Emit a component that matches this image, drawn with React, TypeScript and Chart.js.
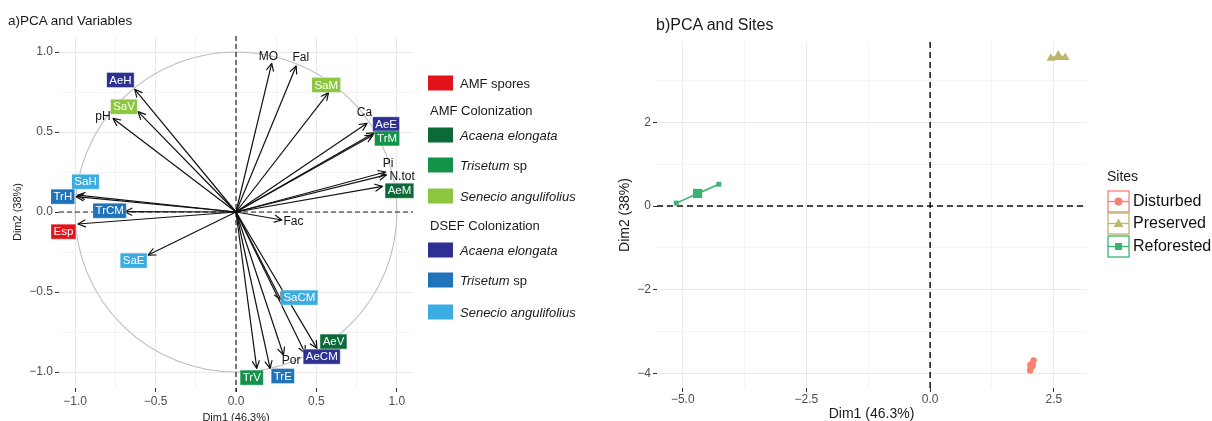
import React, { useEffect, useRef } from "react";
import { Chart, registerables } from "chart.js";
Chart.register(...registerables);

const FONT = '"Liberation Sans", Arial, Helvetica, sans-serif';

// ---------------- Panel a) PCA and Variables ----------------
const varNames = ["MO", "Fal", "SaM", "Ca", "AeE", "TrM", "Pi", "N.tot", "AeM", "AeH", "SaV", "pH", "SaH", "TrH", "TrCM", "Esp", "SaE", "Fac", "SaCM", "AeV", "AeCM", "Por", "TrE", "TrV"];
const varDim1 = [0.222, 0.374, 0.575, 0.814, 0.86, 0.85, 0.93, 0.935, 0.91, -0.629, -0.609, -0.764, -0.985, -0.993, -0.692, -0.982, -0.546, 0.285, 0.28, 0.503, 0.43, 0.295, 0.212, 0.129];
const varDim2 = [0.929, 0.9125, 0.746, 0.554, 0.495, 0.48, 0.25, 0.232, 0.16, 0.767, 0.627, 0.585, 0.105, 0.096, 0.002, -0.075, -0.269, -0.05, -0.55, -0.852, -0.883, -0.894, -0.977, -0.977];
const varGroup = ["none", "none", "amfSa", "none", "dsefAe", "amfTr", "none", "none", "amfAe", "dsefAe", "amfSa", "none", "dsefSa", "dsefTr", "dsefTr", "spores", "dsefSa", "none", "dsefSa", "amfAe", "dsefAe", "none", "dsefTr", "amfTr"];
const labelDim1 = [0.201, 0.403, 0.561, 0.798, 0.933, 0.939, 0.945, 1.032, 1.016, -0.718, -0.696, -0.827, -0.935, -1.076, -0.785, -1.072, -0.636, 0.357, 0.394, 0.606, 0.533, 0.343, 0.291, 0.098];
const labelDim2 = [0.971, 0.964, 0.794, 0.621, 0.548, 0.46, 0.3, 0.221, 0.133, 0.825, 0.658, 0.596, 0.189, 0.096, 0.008, -0.123, -0.304, -0.06, -0.535, -0.81, -0.904, -0.929, -1.025, -1.035];

const groupColors: Record<string, string> = {
  spores: "#E3131C",
  amfAe: "#0B6A38",
  amfTr: "#13934A",
  amfSa: "#8DC63F",
  dsefAe: "#2E3192",
  dsefTr: "#1F73B9",
  dsefSa: "#3BACE1",
};

const legendKeysA = ["spores", null, "amfAe", "amfTr", "amfSa", null, "dsefAe", "dsefTr", "dsefSa"];
const legendTextsA: [string, boolean][][] = [
  [["AMF spores", false]],
  [["AMF Colonization", false]],
  [["Acaena elongata", true]],
  [["Trisetum", true], [" sp", false]],
  [["Senecio angulifolius", true]],
  [["DSEF Colonization", false]],
  [["Acaena elongata", true]],
  [["Trisetum", true], [" sp", false]],
  [["Senecio angulifolius", true]],
];

const ticksA = [-1, -0.75, -0.5, -0.25, 0, 0.25, 0.5, 0.75, 1];
const majorTicksA = [-1, -0.5, 0, 0.5, 1];
const tickLabelsA = ["\u22121.0", "\u22120.5", "0.0", "0.5", "1.0"];
const CIRCLE_R = 1;

// ---------------- Panel b) PCA and Sites ----------------
const siteNames = ["Disturbed", "Preserved", "Reforested"];
const siteColors = ["#FA8072", "#BDB76B", "#3CB371"];
const siteShapes = ["circle", "triangle", "rect"];
const disturbedDim1 = [2.09, 2.05, 2.02];
const disturbedDim2 = [-3.69, -3.81, -3.93];
const preservedDim1 = [2.44, 2.59, 2.73];
const preservedDim2 = [3.53, 3.6, 3.55];
const reforestedDim1 = [-5.13, -4.7, -4.27];
const reforestedDim2 = [0.07, 0.3, 0.52];
const meanDim1 = [2.05, 2.59, -4.7];
const meanDim2 = [-3.81, 3.57, 0.3];

const xTicksB = [-5, -3.75, -2.5, -1.25, 0, 1.25, 2.5];
const xMajorB = [-5, -2.5, 0, 2.5];
const xLabelsB = ["\u22125.0", "\u22122.5", "0.0", "2.5"];
const yTicksB = [-4, -3, -2, -1, 0, 1, 2, 3];
const yMajorB = [-4, -2, 0, 2];
const yLabelsB = ["\u22124", "\u22122", "0", "2"];

function gridScale(
  axis: "x" | "y",
  min: number,
  max: number,
  ticks: number[],
  major: number[],
  labels: string[],
  fixed: number,
  title: string,
  titleSize: number,
  titlePad: any,
  tickPad: number
) {
  const idx = (v: number) => major.findIndex((m) => Math.abs(m - v) < 1e-9);
  return {
    type: "linear",
    min,
    max,
    afterBuildTicks: (s: any) => {
      s.ticks = ticks.map((v) => ({ value: v }));
    },
    afterFit: (s: any) => {
      if (axis === "x") s.height = fixed;
      else s.width = fixed;
    },
    border: { display: false },
    grid: {
      color: (c: any) => (c.tick && idx(c.tick.value) >= 0 ? "#EBEBEB" : "#F4F4F4"),
      tickColor: (c: any) => (c.tick && idx(c.tick.value) >= 0 ? "#333333" : "rgba(0,0,0,0)"),
      tickLength: 4,
      lineWidth: 1,
    },
    ticks: {
      autoSkip: false,
      maxRotation: 0,
      minRotation: 0,
      padding: tickPad,
      color: "#4D4D4D",
      font: { family: FONT, size: 12 },
      callback: (v: any) => {
        const i = idx(Number(v));
        return i >= 0 ? labels[i] : "";
      },
    },
    title: {
      display: true,
      text: title,
      color: "#1A1A1A",
      font: { family: FONT, size: titleSize },
      padding: titlePad,
    },
  };
}

const pluginA = {
  id: "pcaVariables",
  beforeDatasetsDraw(chart: any) {
    const { ctx, chartArea: a, scales } = chart;
    const x = scales.x, y = scales.y;
    const cx = x.getPixelForValue(0), cy = y.getPixelForValue(0);
    const rx = x.getPixelForValue(CIRCLE_R) - cx;
    const ry = cy - y.getPixelForValue(CIRCLE_R);
    ctx.save();
    ctx.strokeStyle = "#BDBDBD";
    ctx.lineWidth = 1.1;
    ctx.beginPath();
    ctx.ellipse(cx, cy, rx, ry, 0, 0, Math.PI * 2);
    ctx.stroke();
    ctx.strokeStyle = "#222";
    ctx.lineWidth = 1.2;
    ctx.setLineDash([5, 3]);
    ctx.beginPath();
    ctx.moveTo(a.left, cy);
    ctx.lineTo(a.right, cy);
    ctx.moveTo(cx, a.top);
    ctx.lineTo(cx, a.bottom + 4);
    ctx.stroke();
    ctx.restore();
  },
  afterDatasetsDraw(chart: any) {
    const { ctx, scales } = chart;
    const x = scales.x, y = scales.y;
    const ox = x.getPixelForValue(0), oy = y.getPixelForValue(0);
    ctx.save();
    ctx.strokeStyle = "#111";
    ctx.lineWidth = 1.2;
    ctx.lineCap = "round";
    ctx.lineJoin = "round";
    varNames.forEach((_, i) => {
      const tx = x.getPixelForValue(varDim1[i]);
      const ty = y.getPixelForValue(varDim2[i]);
      const ang = Math.atan2(ty - oy, tx - ox);
      const L = 8, spread = 0.45;
      ctx.beginPath();
      ctx.moveTo(tx - L * Math.cos(ang - spread), ty - L * Math.sin(ang - spread));
      ctx.lineTo(tx, ty);
      ctx.lineTo(tx - L * Math.cos(ang + spread), ty - L * Math.sin(ang + spread));
      ctx.stroke();
    });
    ctx.textAlign = "center";
    ctx.textBaseline = "middle";
    varNames.forEach((name, i) => {
      const px = x.getPixelForValue(labelDim1[i]);
      const py = y.getPixelForValue(labelDim2[i]);
      const g = varGroup[i];
      if (g === "none") {
        ctx.font = `12px ${FONT}`;
        ctx.fillStyle = "#111";
        ctx.fillText(name, px, py);
      } else {
        ctx.font = `11.5px ${FONT}`;
        const w = ctx.measureText(name).width + 5;
        const h = 15;
        ctx.fillStyle = groupColors[g];
        ctx.fillRect(px - w / 2, py - h / 2, w, h);
        ctx.strokeStyle = "rgba(255,255,255,0.6)";
        ctx.lineWidth = 0.6;
        ctx.strokeRect(px - w / 2, py - h / 2, w, h);
        ctx.fillStyle = "#FFFFFF";
        ctx.fillText(name, px, py + 0.5);
      }
    });
    ctx.restore();
  },
  afterDraw(chart: any) {
    const { ctx } = chart;
    const rowsY = [84, 111, 136, 166, 197, 226, 251, 281, 313];
    ctx.save();
    ctx.textBaseline = "middle";
    ctx.textAlign = "left";
    legendKeysA.forEach((key, i) => {
      const yy = rowsY[i];
      let tx = 430;
      if (key) {
        ctx.fillStyle = groupColors[key];
        ctx.fillRect(428, yy - 8.5, 25, 15);
        tx = 460;
      }
      ctx.fillStyle = "#1A1A1A";
      legendTextsA[i].forEach(([t, it]) => {
        ctx.font = `${it ? "italic " : ""}13px ${FONT}`;
        ctx.fillText(t, tx, yy);
        tx += ctx.measureText(t).width;
      });
    });
    ctx.restore();
  },
};

const pluginB = {
  id: "pcaSites",
  beforeDatasetsDraw(chart: any) {
    const { ctx, chartArea: a, scales } = chart;
    const cx = scales.x.getPixelForValue(0), cy = scales.y.getPixelForValue(0);
    ctx.save();
    ctx.strokeStyle = "#111";
    ctx.lineWidth = 1.5;
    ctx.setLineDash([6, 4]);
    ctx.beginPath();
    ctx.moveTo(a.left, cy);
    ctx.lineTo(a.right, cy);
    ctx.moveTo(cx, a.top);
    ctx.lineTo(cx, a.bottom + 4);
    ctx.stroke();
    ctx.restore();
  },
  afterDraw(chart: any) {
    const { ctx, chartArea: a } = chart;
    const lx = a.right + 21;
    ctx.save();
    ctx.textBaseline = "middle";
    ctx.textAlign = "left";
    ctx.fillStyle = "#1A1A1A";
    ctx.font = `14px ${FONT}`;
    ctx.fillText("Sites", lx, 177);
    const rowTop = [191, 213, 236];
    siteNames.forEach((name, i) => {
      const top = rowTop[i];
      const c = siteColors[i];
      ctx.strokeStyle = c;
      ctx.lineWidth = 1.3;
      ctx.strokeRect(lx + 1, top, 21, 21);
      const my = top + 10.5, mx = lx + 11.5;
      ctx.beginPath();
      ctx.moveTo(lx + 1, my);
      ctx.lineTo(lx + 22, my);
      ctx.stroke();
      ctx.fillStyle = c;
      ctx.beginPath();
      if (siteShapes[i] === "circle") {
        ctx.arc(mx, my, 4, 0, Math.PI * 2);
      } else if (siteShapes[i] === "triangle") {
        ctx.moveTo(mx, my - 5);
        ctx.lineTo(mx + 5, my + 3.5);
        ctx.lineTo(mx - 5, my + 3.5);
        ctx.closePath();
      } else {
        ctx.rect(mx - 3.5, my - 3.5, 7, 7);
      }
      ctx.fill();
      ctx.fillStyle = "#111";
      ctx.font = `16px ${FONT}`;
      ctx.fillText(name, lx + 26, my + 0.5);
    });
    ctx.restore();
  },
};

export default function App() {
  const refA = useRef<HTMLCanvasElement | null>(null);
  const refB = useRef<HTMLCanvasElement | null>(null);

  useEffect(() => {
    if (!refA.current || !refB.current) return;

    const arrowSets = varNames.map((name, i) => ({
      label: name,
      data: [
        { x: 0, y: 0 },
        { x: varDim1[i], y: varDim2[i] },
      ],
      showLine: true,
      borderColor: "#111",
      borderWidth: 1.2,
      pointRadius: 0,
      fill: false,
    }));

    const chartA = new Chart(refA.current, {
      type: "scatter",
      data: { datasets: arrowSets as any },
      options: {
        responsive: false,
        animation: false,
        events: [],
        layout: { padding: { top: 36, right: 197, left: 0, bottom: 0 } },
        plugins: { legend: { display: false }, tooltip: { enabled: false }, title: { display: false } },
        scales: {
          x: gridScale("x", -1.1, 1.1, ticksA, majorTicksA, tickLabelsA, 33, "Dim1 (46.3%)", 11, { top: 0, bottom: -4 }, 2) as any,
          y: gridScale("y", -1.1, 1.1, ticksA, majorTicksA, tickLabelsA, 59, "Dim2 (38%)", 11, { top: 11, bottom: 0 }, 2) as any,
        },
      },
      plugins: [pluginA],
    });

    const groupsX = [disturbedDim1, preservedDim1, reforestedDim1];
    const groupsY = [disturbedDim2, preservedDim2, reforestedDim2];
    const smallR = [3.2, 5, 3.5];
    const meanR = [4.5, 6.5, 6.5];
    const setsB: any[] = [];
    siteNames.forEach((name, i) => {
      const pts = groupsX[i].map((v, k) => ({ x: v, y: groupsY[i][k] }));
      setsB.push({
        label: name + " hull",
        data: [...pts, pts[0]],
        showLine: true,
        borderColor: siteColors[i],
        borderWidth: 1.4,
        pointRadius: 0,
        fill: false,
      });
      setsB.push({
        label: name,
        data: pts,
        showLine: false,
        pointStyle: siteShapes[i],
        pointRadius: smallR[i],
        backgroundColor: siteColors[i],
        borderColor: siteColors[i],
        borderWidth: 0,
      });
      setsB.push({
        label: name + " mean",
        data: [{ x: meanDim1[i], y: meanDim2[i] }],
        showLine: false,
        pointStyle: siteShapes[i],
        pointRadius: meanR[i],
        backgroundColor: siteColors[i],
        borderColor: siteColors[i],
        borderWidth: 0,
      });
    });

    const chartB = new Chart(refB.current, {
      type: "scatter",
      data: { datasets: setsB },
      options: {
        responsive: false,
        animation: false,
        events: [],
        layout: { padding: { top: 42, right: 126, left: 0, bottom: 0 } },
        plugins: { legend: { display: false }, tooltip: { enabled: false }, title: { display: false } },
        scales: {
          x: gridScale("x", -5.52, 3.15, xTicksB, xMajorB, xLabelsB, 33, "Dim1 (46.3%)", 14, { top: 0, bottom: -2 }, 0) as any,
          y: gridScale("y", -4.35, 3.92, yTicksB, yMajorB, yLabelsB, 47, "Dim2 (38%)", 14, { top: 6.6, bottom: 0 }, 2) as any,
        },
      },
      plugins: [pluginB],
    });

    return () => {
      chartA.destroy();
      chartB.destroy();
    };
  }, []);

  return (
    <div
      style={{
        position: "absolute",
        left: 0,
        top: 0,
        width: 1212,
        height: 421,
        overflow: "hidden",
        background: "#FFFFFF",
        fontFamily: FONT,
      }}
    >
      <div style={{ position: "absolute", left: 0, top: 0, width: 610, height: 421 }}>
        <canvas ref={refA} width={610} height={421} style={{ display: "block" }} />
      </div>
      <div style={{ position: "absolute", left: 610, top: 0, width: 602, height: 421 }}>
        <canvas ref={refB} width={602} height={421} style={{ display: "block" }} />
      </div>
      <div style={{ position: "absolute", left: 8, top: 13, fontSize: 13.5, lineHeight: "16px", color: "#1A1A1A", whiteSpace: "nowrap" }}>
        a)PCA and Variables
      </div>
      <div style={{ position: "absolute", left: 656, top: 16, fontSize: 16, lineHeight: "18px", color: "#1A1A1A", whiteSpace: "nowrap" }}>
        b)PCA and Sites
      </div>
    </div>
  );
}
